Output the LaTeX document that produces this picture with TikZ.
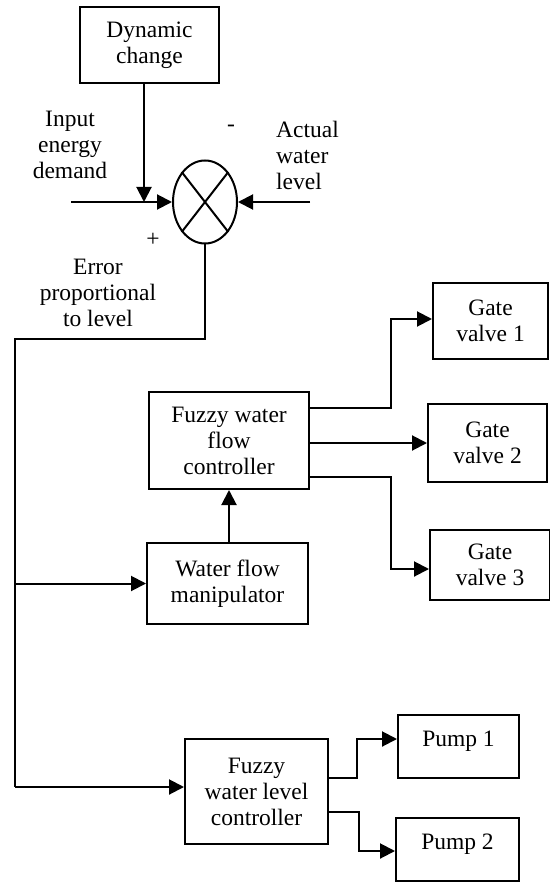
\documentclass[tikz,border=0pt]{standalone}
\usepackage{fontspec}
\setmainfont{Liberation Serif}
\usetikzlibrary{arrows.meta,shapes.geometric}
\begin{document}
\begin{tikzpicture}[x=1pt,y=-1pt,
  every node/.style={font=\fontsize{23.5}{26}\selectfont, align=center, inner sep=0pt},
  box/.style={draw, line width=2pt},
  ln/.style={line width=2pt},
  arr/.style={line width=2pt, -{Triangle[length=15pt,width=15pt]}}]
\useasboundingbox (0,0) rectangle (549,882);
% boxes
\node[box, minimum width=139, minimum height=76] (dyn) at (149.5,45) {Dynamic\\change};
\node[draw, ellipse, line width=2pt, minimum width=64, minimum height=83] (sum) at (205,202) {};
\draw[ln] (sum.north west) -- (sum.south east);
\draw[ln] (sum.north east) -- (sum.south west);
\node[box, minimum width=115, minimum height=76] (gv1) at (490.5,321) {Gate\\valve 1};
\node[box, minimum width=119, minimum height=78] (gv2) at (487.5,443) {Gate\\valve 2};
\node[box, minimum width=120, minimum height=70] (gv3) at (490,565) {Gate\\valve 3};
\node[box, minimum width=160, minimum height=97] (fwfc) at (229,440.5) {Fuzzy water\\flow\\controller};
\node[box, minimum width=161, minimum height=81] (wfm) at (227.5,583.5) {Water flow\\manipulator};
\node[box, minimum width=143, minimum height=105] (fwlc) at (256.5,791.5) {Fuzzy\\water level\\controller};
\node[box, minimum width=121, minimum height=63] (p1) at (458.5,746.5) {};
\node (p1t) at (458.5,741) {Pump 1};
\node[box, minimum width=123, minimum height=63] (p2) at (457.5,849.5) {};
\node (p2t) at (457.5,844) {Pump 2};
% labels
\node (lin) at (70,145) {Input\\energy\\demand};
\node[align=left, anchor=west] (lact) at (276,155) {Actual\\water\\level};
\node (lminus) at (231,128) {-};
\node (lplus) at (153,240) {+};
\node (lerr) at (98,293) {Error\\proportional\\to level};
% coordinates
\coordinate (in) at (71,202);
\coordinate (act) at (310,202);
\coordinate (bus) at (15,339);
\coordinate (busend) at (15,787);
% connectors
\draw[arr] ([xshift=-5.5pt]dyn.south) -- ([xshift=-5.5pt]dyn.south |- sum.west);
\draw[arr] (in) -- (sum.west);
\draw[arr] (act) -- (sum.east);
\draw[ln] (sum.south) |- (bus) -- (busend);
\draw[arr] (bus |- wfm.west) -- (wfm.west);
\draw[arr] (busend) -- (busend -| fwlc.west);
\draw[arr] (wfm.north -| fwfc.south) -- (fwfc.south);
\draw[arr] ([yshift=32.5pt]fwfc.east) -- ++(81,0) |- ([yshift=2pt]gv1.west);
\draw[arr] (fwfc.east |- gv2.west) -- (gv2.west);
\draw[arr] ([yshift=-36.5pt]fwfc.east) -- ++(81,0) |- ([yshift=-4pt]gv3.west);
\draw[arr] ([yshift=13.5pt]fwlc.east) -- ++(28,0) |- ([yshift=7.5pt]p1.west);
\draw[arr] ([yshift=-20.5pt]fwlc.east) -- ++(30,0) |- ([yshift=-1.5pt]p2.west);
\end{tikzpicture}
\end{document}
